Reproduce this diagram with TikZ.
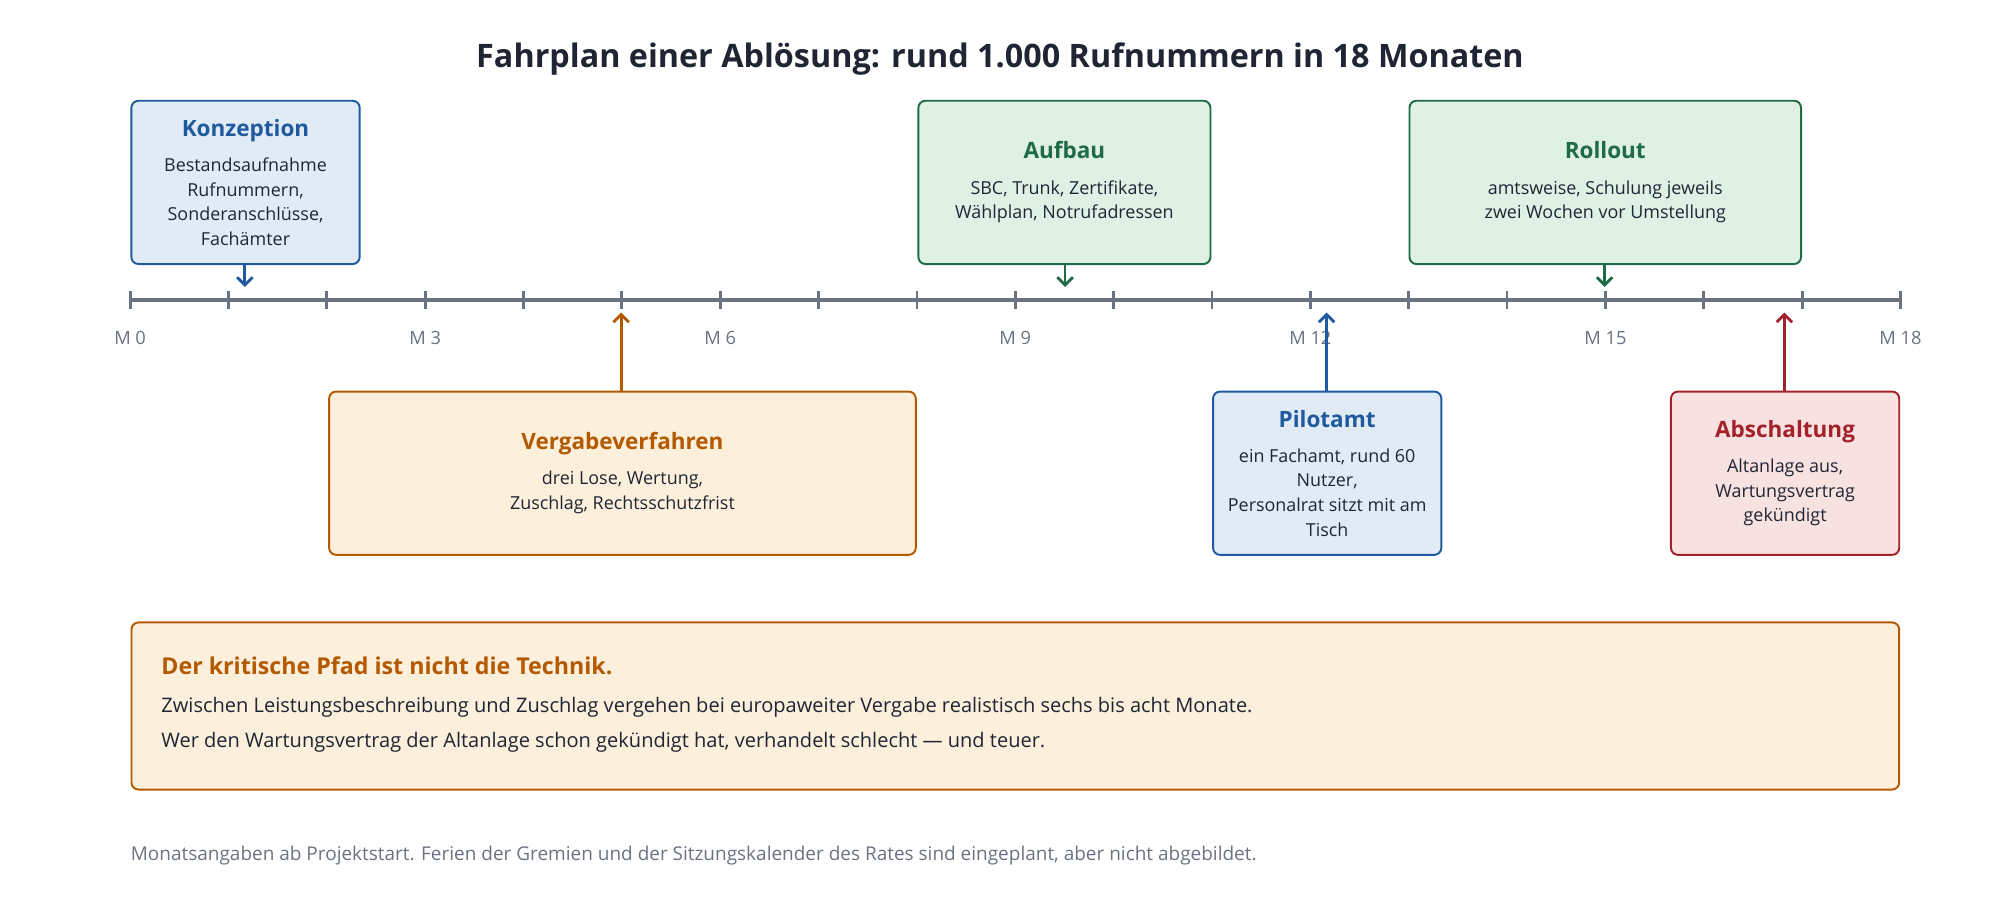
\documentclass[tikz,border=0pt]{standalone}
\usepackage{fontspec}
\setmainfont{Open Sans}
\usetikzlibrary{arrows.meta}
\definecolor{ink}{HTML}{1F2533}
\definecolor{axis}{HTML}{6B7280}
\definecolor{blueline}{HTML}{1F5A9E}
\definecolor{bluefill}{HTML}{E0EBF6}
\definecolor{greenline}{HTML}{1E6B45}
\definecolor{greenfill}{HTML}{DFF0E5}
\definecolor{orangeline}{HTML}{B35A00}
\definecolor{orangefill}{HTML}{FCEFDC}
\definecolor{redline}{HTML}{A3222A}
\definecolor{redfill}{HTML}{F8E1E1}
\newcommand{\phasekopf}[2]{{\color{#1}\fontsize{6.4}{9}\selectfont\bfseries #2}}
\tikzset{
  phase/.style n args={2}{draw=#1, fill=#2, line width=0.55pt, rounded corners=2pt,
    align=center, text=ink, font=\fontsize{5.1}{7}\selectfont, inner sep=0pt, minimum height=1.633cm},
  pin/.style={draw=#1, line width=0.8pt, -{Straight Barb[length=2.2pt,width=4.4pt]}},
  monat/.style={text=axis, font=\fontsize{5.2}{7}\selectfont}
}
\begin{document}
\begin{tikzpicture}[x=0.012755cm, y=-0.012755cm]
  \useasboundingbox (0,0) rectangle (1568,705);

  % Titel
  \node[text=ink, font=\fontsize{9.2}{11}\selectfont\bfseries] (titel) at (784,46)
    {Fahrplan einer Ablösung: rund 1.000 Rufnummern in 18 Monaten};

  % Zeitachse
  \draw[axis, line width=1.1pt] (102,235) -- (1490,235);
  \foreach \m in {0,...,18} {
    \draw[axis, line width=0.8pt] ({102+\m*77.11},228) -- ({102+\m*77.11},242);
  }
  \foreach \m in {0,3,...,18} {
    \node[monat] at ({102+\m*77.11},265) {M \m};
  }

  % Phasen oben
  \node[phase={blueline}{bluefill}, minimum width=2.283cm] (konz) at (192.5,143)
    {\phasekopf{blueline}{Konzeption}\\[3pt] Bestandsaufnahme\\Rufnummern,\\Sonderanschlüsse,\\Fachämter};
  \node[phase={greenline}{greenfill}, minimum width=2.921cm] (aufbau) at (834.5,143)
    {\phasekopf{greenline}{Aufbau}\\[3pt] SBC, Trunk, Zertifikate,\\Wählplan, Notrufadressen};
  \node[phase={greenline}{greenfill}, minimum width=3.916cm] (rollout) at (1258.5,143)
    {\phasekopf{greenline}{Rollout}\\[3pt] amtsweise, Schulung jeweils\\zwei Wochen vor Umstellung};

  % Phasen unten
  \node[phase={orangeline}{orangefill}, minimum width=5.867cm] (vergabe) at (488,371)
    {\phasekopf{orangeline}{Vergabeverfahren}\\[3pt] drei Lose, Wertung,\\Zuschlag, Rechtsschutzfrist};
  \node[phase={blueline}{bluefill}, minimum width=2.283cm] (pilot) at (1040.5,371)
    {\phasekopf{blueline}{Pilotamt}\\[3pt] ein Fachamt, rund 60\\Nutzer,\\Personalrat sitzt mit am\\Tisch};
  \node[phase={redline}{redfill}, minimum width=2.283cm] (absch) at (1399.5,371)
    {\phasekopf{redline}{Abschaltung}\\[3pt] Altanlage aus,\\Wartungsvertrag\\gekündigt};

  % Verbinder
  \coordinate (tKonz) at (192,225);
  \coordinate (tAufbau) at (835,225);
  \coordinate (tRollout) at (1258,225);
  \coordinate (tVergabe) at (487,245);
  \coordinate (tPilot) at (1040,245);
  \coordinate (tAbsch) at (1399,245);
  \draw[pin=blueline] (konz.south -| tKonz) -- (tKonz);
  \draw[pin=greenline] (aufbau.south -| tAufbau) -- (tAufbau);
  \draw[pin=greenline] (rollout.south -| tRollout) -- (tRollout);
  \draw[pin=orangeline] (vergabe.north -| tVergabe) -- (tVergabe);
  \draw[pin=blueline] (pilot.north -| tPilot) -- (tPilot);
  \draw[pin=redline] (absch.north -| tAbsch) -- (tAbsch);

  % Hinweis
  \node[draw=orangeline, fill=orangefill, line width=0.55pt, rounded corners=2pt,
    minimum width=17.678cm, minimum height=1.671cm, inner sep=0pt] (hinweis) at (796,553.5) {};
  \node[anchor=west, inner sep=0pt, text=orangeline, font=\fontsize{6.6}{9}\selectfont\bfseries] (hkopf) at (126,522)
    {Der kritische Pfad ist nicht die Technik.};
  \node[anchor=west, inner sep=0pt, text=ink, font=\fontsize{5.7}{10}\selectfont, align=left] (htext) at (126,568)
    {Zwischen Leistungsbeschreibung und Zuschlag vergehen bei europaweiter Vergabe realistisch sechs bis acht Monate.\\
     Wer den Wartungsvertrag der Altanlage schon gekündigt hat, verhandelt schlecht — und teuer.};

  % Fußnote
  \node[anchor=west, inner sep=0pt, text=axis, font=\fontsize{5.4}{7}\selectfont] (fuss) at (102,671)
    {Monatsangaben ab Projektstart. Ferien der Gremien und der Sitzungskalender des Rates sind eingeplant, aber nicht abgebildet.};
\end{tikzpicture}
\end{document}
